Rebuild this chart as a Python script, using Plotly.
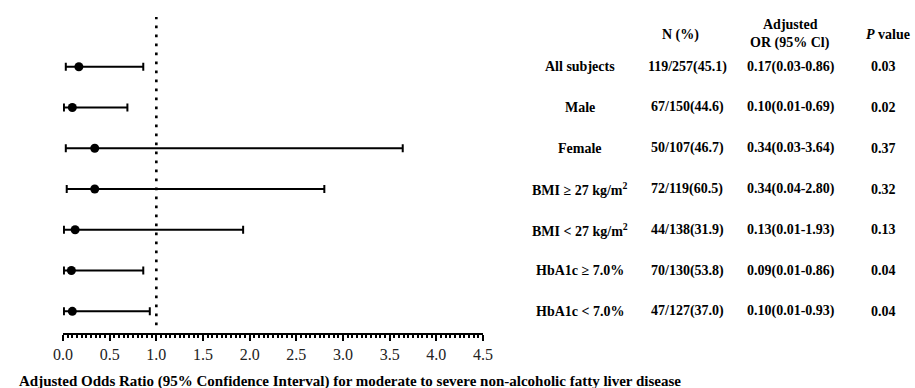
import plotly.graph_objects as go

labels = ["All subjects", "Male", "Female", "BMI ≥ 27 kg/m<sup>2</sup>",
          "BMI &lt; 27 kg/m<sup>2</sup>", "HbA1c ≥ 7.0%", "HbA1c &lt; 7.0%"]
n_pct = ["119/257(45.1)", "67/150(44.6)", "50/107(46.7)", "72/119(60.5)",
         "44/138(31.9)", "70/130(53.8)", "47/127(37.0)"]
odds = [0.17, 0.10, 0.34, 0.34, 0.13, 0.09, 0.10]
ci_low = [0.03, 0.01, 0.03, 0.04, 0.01, 0.01, 0.01]
ci_high = [0.86, 0.69, 3.64, 2.80, 1.93, 0.86, 0.93]
p_values = ["0.03", "0.02", "0.37", "0.32", "0.13", "0.04", "0.04"]
x_ticks = [0.0, 0.5, 1.0, 1.5, 2.0, 2.5, 3.0, 3.5, 4.0, 4.5]

FONT = "Liberation Serif"
n = len(labels)
rows = [n - i for i in range(n)]  # top row highest

# layout geometry (pixels)
W, H = 915, 388
ML, MR, MT, MB = 63, 432, 17, 55
PW = W - ML - MR
PH = H - MT - MB

def px2paper_x(px):
    return (px - ML) / PW

def py2paper_y(py):
    return (H - MB - py) / PH

fig = go.Figure()
fig.add_trace(go.Scatter(
    x=odds, y=rows, mode="markers",
    marker=dict(color="black", size=9, symbol="circle"),
    error_x=dict(type="data", symmetric=False,
                 array=[h - o for h, o in zip(ci_high, odds)],
                 arrayminus=[o - l for o, l in zip(odds, ci_low)],
                 color="black", thickness=2, width=4),
    cliponaxis=False, showlegend=False, hoverinfo="skip"))

# reference line at OR = 1
fig.add_shape(type="line", xref="x", yref="y", x0=1, x1=1, y0=0.66, y1=8.22,
              line=dict(color="black", width=2.6, dash="2.6px,6.4px"))

ann = []
bold = lambda s: "<b>" + s + "</b>"
col_label, col_n, col_or, col_p = 580, 687, 791, 883
for r, lab, nn, o, lo, hi, p in zip(rows, labels, n_pct, odds, ci_low, ci_high, p_values):
    orci = "%.2f(%.2f-%.2f)" % (o, lo, hi)
    for txt, cx in [(lab, col_label), (nn, col_n), (orci, col_or), (p, col_p)]:
        ann.append(dict(text=bold(txt), x=px2paper_x(cx), xref="paper", y=r, yref="y",
                        xanchor="center", yanchor="middle", showarrow=False,
                        font=dict(family=FONT, size=14, color="black")))

headers = [("N (%)", 680, 35), ("Adjusted", 790, 24), ("OR (95% Cl)", 790, 43),
           ("<i>P</i> value", 888, 35)]
for txt, cx, cy in headers:
    ann.append(dict(text=bold(txt), x=px2paper_x(cx), xref="paper", y=py2paper_y(cy),
                    yref="paper", xanchor="center", yanchor="middle", showarrow=False,
                    font=dict(family=FONT, size=14, color="black")))

ann.append(dict(text=bold("Adjusted Odds Ratio (95% Confidence Interval) for moderate to severe non-alcoholic fatty liver disease"),
                x=px2paper_x(17), xref="paper", y=py2paper_y(381), yref="paper",
                xanchor="left", yanchor="middle", showarrow=False,
                font=dict(family=FONT, size=15, color="black")))

fig.update_layout(
    width=W, height=H, margin=dict(l=ML, r=MR, t=MT, b=MB, autoexpand=False),
    paper_bgcolor="white", plot_bgcolor="white",
    annotations=ann,
    xaxis=dict(range=[0, 4.5], tickvals=x_ticks, ticktext=["%.1f" % t for t in x_ticks],
               showgrid=False, zeroline=False, showline=True, linecolor="black", linewidth=2,
               ticks="outside", ticklen=6, tickwidth=2, tickcolor="black",
               tickfont=dict(family=FONT, size=16, color="#222"),
               minor=dict(dtick=0.05, tick0=0, ticks="outside", ticklen=3, tickwidth=1.5,
                          tickcolor="black", showgrid=False)),
    yaxis=dict(range=[0.468, 8.219], visible=False, showgrid=False, zeroline=False),
)

fig.write_html("out.html", config={"displayModeBar": False},
               post_script="document.body.style.margin='0';document.body.style.overflow='hidden';")
